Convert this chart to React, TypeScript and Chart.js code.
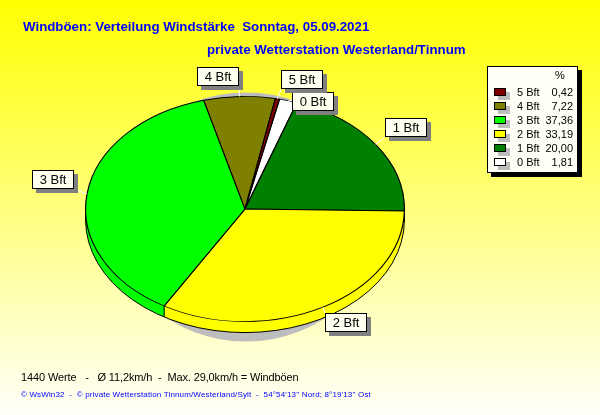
import React, { useEffect, useRef } from "react";
import { Chart, registerables } from "chart.js";

Chart.register(...registerables);

const categories = ["0 Bft", "1 Bft", "2 Bft", "3 Bft", "4 Bft", "5 Bft"];
const percentages = [1.81, 20.0, 33.19, 37.36, 7.22, 0.42];
const sliceColors = ["#ffffff", "#008000", "#ffff00", "#00ff00", "#808000", "#800000"];
const titleLine1 = "Windböen: Verteilung Windstärke  Sonntag, 05.09.2021";
const titleLine2 = "private Wetterstation Westerland/Tinnum";
const statsLine = "1440 Werte   -   Ø 11,2km/h  -  Max. 29,0km/h = Windböen";
const creditLine = "© WsWin32  -  © private Wetterstation Tinnum/Westerland/Sylt  -  54°54'13'' Nord; 8°19'13'' Ost";

const SQUASH = 113 / 160;
const DEPTH = 11;
const LABEL_BOXES: Record<string, [number, number]> = {
  "0 Bft": [292, 92],
  "1 Bft": [385, 118],
  "2 Bft": [325, 313],
  "3 Bft": [32, 170],
  "4 Bft": [197, 67],
  "5 Bft": [281, 70],
};

const ellipse3d = {
  id: "ellipse3d",
  beforeDraw(chart: any) {
    const { ctx, width, height } = chart;
    const g = ctx.createLinearGradient(0, 0, 0, height);
    g.addColorStop(0, "#ffff00");
    g.addColorStop(1, "#fffffa");
    ctx.save();
    ctx.fillStyle = g;
    ctx.fillRect(0, 0, width, height);
    ctx.restore();
  },
  beforeDatasetsDraw(chart: any) {
    const { ctx } = chart;
    const arcs = chart.getDatasetMeta(0).data;
    const { x, y, outerRadius: r } = arcs[0];
    const ry = r * SQUASH;
    ctx.save();
    // soft grey shadow behind the pie
    ctx.fillStyle = "#bdbdbd";
    ctx.beginPath();
    ctx.ellipse(x + 1, y + 8, r - 24, ry + 12, 0, 0, Math.PI * 2);
    ctx.fill();
    // side wall
    for (let d = DEPTH; d >= 1; d--) {
      arcs.forEach((a: any, i: number) => {
        ctx.fillStyle = sliceColors[i];
        ctx.beginPath();
        ctx.moveTo(x, y + d);
        ctx.ellipse(x, y + d, r, ry, 0, a.startAngle, a.endAngle);
        ctx.closePath();
        ctx.fill();
      });
    }
    ctx.strokeStyle = "#000";
    ctx.lineWidth = 1;
    ctx.beginPath();
    ctx.ellipse(x, y + DEPTH, r, ry, 0, 0, Math.PI);
    ctx.stroke();
    arcs.forEach((a: any) => {
      const c = Math.cos(a.startAngle);
      const s = Math.sin(a.startAngle);
      if (s > 0) {
        ctx.beginPath();
        ctx.moveTo(x + r * c, y + ry * s);
        ctx.lineTo(x + r * c, y + ry * s + DEPTH);
        ctx.stroke();
      }
    });
    ctx.beginPath();
    ctx.moveTo(x - r, y);
    ctx.lineTo(x - r, y + DEPTH);
    ctx.moveTo(x + r, y);
    ctx.lineTo(x + r, y + DEPTH);
    ctx.stroke();
    ctx.restore();
  },
  beforeDatasetDraw(chart: any) {
    const { ctx } = chart;
    const { x, y } = chart.getDatasetMeta(0).data[0];
    ctx.save();
    ctx.translate(x, y);
    ctx.scale(1, SQUASH);
    ctx.translate(-x, -y);
  },
  afterDatasetDraw(chart: any) {
    chart.ctx.restore();
  },
  afterDatasetsDraw(chart: any) {
    const { ctx } = chart;
    const arcs = chart.getDatasetMeta(0).data;
    const { x, y, outerRadius: r } = arcs[0];
    const ry = r * SQUASH;
    ctx.save();

    // slice labels
    categories.forEach((name, i) => {
      const [bx, by] = LABEL_BOXES[name];
      const w = 42;
      const h = 19;
      const mid = (arcs[i].startAngle + arcs[i].endAngle) / 2;
      const px = x + r * Math.cos(mid);
      const py = y + ry * Math.sin(mid);
      ctx.strokeStyle = "#ffffff";
      ctx.lineWidth = 1;
      ctx.beginPath();
      ctx.moveTo(px, py);
      ctx.lineTo(Math.min(Math.max(px, bx), bx + w), Math.min(Math.max(py, by), by + h));
      ctx.stroke();
      ctx.fillStyle = "#808080";
      ctx.fillRect(bx + 4, by + 4, w, h);
      ctx.fillStyle = "#fffff0";
      ctx.fillRect(bx, by, w, h);
      ctx.strokeStyle = "#000";
      ctx.strokeRect(bx + 0.5, by + 0.5, w - 1, h - 1);
      ctx.fillStyle = "#000";
      ctx.font = '13px "Liberation Sans"';
      ctx.textAlign = "center";
      ctx.textBaseline = "middle";
      ctx.fillText(name, bx + w / 2, by + h / 2 + 1);
    });

    // legend
    ctx.fillStyle = "#000";
    ctx.fillRect(491, 70, 91, 107);
    ctx.fillStyle = "#fffff5";
    ctx.fillRect(487, 66, 91, 107);
    ctx.strokeStyle = "#000";
    ctx.strokeRect(487.5, 66.5, 90, 106);
    ctx.font = '11px "Liberation Sans"';
    ctx.textBaseline = "middle";
    ctx.fillStyle = "#000";
    ctx.textAlign = "center";
    ctx.fillText("%", 560, 76);
    for (let row = 0; row < categories.length; row++) {
      const i = categories.length - 1 - row;
      const cy = 92 + row * 14;
      ctx.fillStyle = "#bdbdbd";
      ctx.fillRect(498, cy, 12, 8);
      ctx.fillStyle = sliceColors[i];
      ctx.fillRect(494, cy - 4, 12, 8);
      ctx.strokeStyle = "#000";
      ctx.strokeRect(494.5, cy - 3.5, 11, 7);
      ctx.fillStyle = "#000";
      ctx.textAlign = "left";
      ctx.fillText(categories[i], 517, cy + 0.5);
      ctx.textAlign = "right";
      ctx.fillText(percentages[i].toFixed(2).replace(".", ","), 573, cy + 0.5);
    }

    // titles and footer
    ctx.textAlign = "left";
    ctx.textBaseline = "alphabetic";
    ctx.fillStyle = "#0000ff";
    ctx.font = 'bold 13.3px "Liberation Sans"';
    ctx.fillText(titleLine1, 23, 31);
    ctx.fillText(titleLine2, 207, 54);
    ctx.fillStyle = "#000";
    ctx.font = '11px "Liberation Sans"';
    (ctx as any).letterSpacing = "-0.13px";
    ctx.fillText(statsLine, 21, 381);
    (ctx as any).letterSpacing = "0px";
    ctx.fillStyle = "#0000ff";
    ctx.font = '8px "Liberation Sans"';
    (ctx as any).letterSpacing = "0.14px";
    ctx.fillText(creditLine, 21, 397);
    (ctx as any).letterSpacing = "0px";
    ctx.restore();
  },
};

export default function App() {
  const ref = useRef<HTMLCanvasElement>(null);
  useEffect(() => {
    document.body.style.margin = "0";
    const chart = new Chart(ref.current!, {
      type: "pie",
      data: {
        labels: categories,
        datasets: [
          {
            data: percentages,
            backgroundColor: sliceColors,
            borderColor: "#000000",
            borderWidth: 1.2,
            clip: false,
          } as any,
        ],
      },
      options: {
        animation: false,
        responsive: false,
        devicePixelRatio: 1,
        rotation: 12.5,
        layout: { padding: { left: 85, right: 195, top: 49, bottom: 46 } },
        plugins: { legend: { display: false }, tooltip: { enabled: false }, title: { display: false } },
      },
      plugins: [ellipse3d],
    });
    return () => chart.destroy();
  }, []);
  return (
    <div style={{ width: 600, height: 415 }}>
      <canvas ref={ref} width={600} height={415} style={{ display: "block" }} />
    </div>
  );
}
